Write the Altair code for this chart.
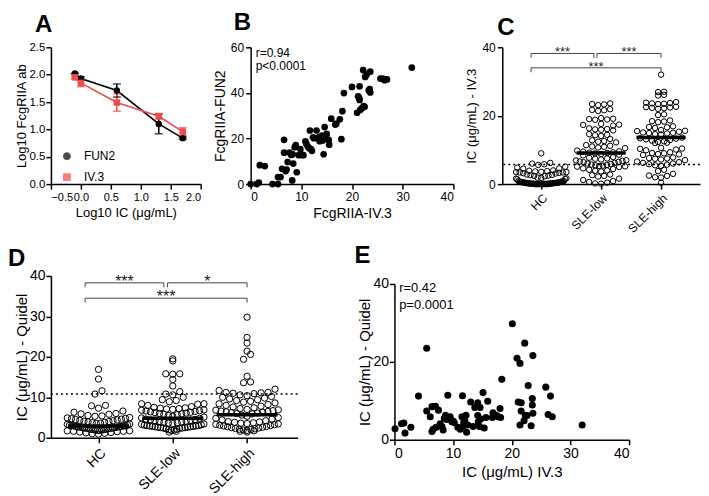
import altair as alt
import pandas as pd

FONT = "Liberation Sans"
RED = "#f04a4a"

# ---------------- Panel A ----------------
a_series = ["FUN2", "IV.3"]
a_x = [-0.1, 0.0, 0.6, 1.3, 1.7]
a_fun2 = [2.02, 1.93, 1.71, 1.10, 0.84]
a_fun2_err = [0.0, 0.03, 0.12, 0.18, 0.02]
a_iv3 = [1.95, 1.85, 1.49, 1.24, 0.96]
a_iv3_err = [0.03, 0.07, 0.16, 0.05, 0.07]

# ---------------- Panel B ----------------
b_iv3 = [0.0, 1.2, 1.6, 1.8, 2.8, 4.3, 5.4, 5.4, 5.9, 6.2, 6.6, 6.6, 6.9, 7.1, 7.3, 7.7, 8.0, 8.3, 8.2, 8.4,
         8.7, 8.9, 9.1, 9.5, 9.8, 10.2, 10.4, 10.8, 11.0, 11.3, 11.7, 11.5, 11.9, 12.1, 12.3, 12.5, 13.0, 13.4,
         13.6, 13.9, 14.1, 14.2, 14.4, 14.6, 14.7, 15.0, 15.4, 15.5, 15.9, 16.7, 16.9, 17.6, 17.9, 18.1, 18.4,
         20.0, 21.0, 21.2, 21.5, 21.4, 21.5, 21.6, 21.9, 22.2, 22.3, 22.5, 22.6, 22.9, 23.3, 23.5, 23.6, 23.6,
         25.6, 26.1, 26.4, 26.9, 31.8]
b_fun2 = [0.0, 0.0, 0.7, 8.3, 7.9, 0.0, 0.0, 3.1, 3.1, 6.7, 19.4, 13.8, 5.7, 6.4, 9.7, 13.8, 12.8, 13.1, 1.6, 9.0,
          16.2, 17.1, 5.2, 12.7, 15.3, 12.8, 12.7, 18.8, 17.6, 16.5, 23.5, 15.8, 15.3, 14.6, 20.5, 20.1, 23.5, 20.5,
          18.8, 19.4, 21.3, 19.1, 13.1, 25.0, 19.8, 22.0, 19.4, 17.3, 28.7, 26.1, 26.5, 28.4, 19.7, 32.0, 39.9,
          42.6, 31.3, 38.5, 42.9, 37.8, 36.9, 32.5, 33.2, 50.0, 34.2, 33.9, 47.0, 48.1, 41.1, 41.7, 49.3, 40.2,
          46.3, 46.3, 45.6, 45.9, 51.1]
b_stats = ["r=0.94", "p<0.0001"]

# ---------------- Panel C / D ----------------
groups = ["HC", "SLE-low", "SLE-high"]
c_hc = [9.0, 6.2, 6.0, 5.8, 5.6, 5.1, 4.8, 4.6, 4.5, 4.0, 3.9, 3.8, 3.7, 3.6, 3.5, 3.5, 3.4, 3.4, 3.3, 3.2, 3.1,
        2.8, 2.7, 2.6, 2.5, 2.4, 2.3, 1.9, 1.8, 1.7, 1.6, 1.5, 1.4, 0.9, 0.9, 0.8, 0.7, 0.7, 0.6, 0.6, 0.5, 0.5,
        0.5, 0.4, 0.4, 0.4, 0.3, 0.3, 0.3, 0.3, 0.2, 0.2, 0.2, 0.2, 0.1, 0.1, 0.1, 0.1, 0.1, 0.0, 0.0, 0.0, 0.0,
        0.0, 0.0, 0.0, 0.0, 0.0, 0.0, 0.0]
c_low = [23.6, 23.4, 23.3, 23.1, 21.9, 21.7, 21.6, 21.4, 19.3, 19.1, 19.0, 18.9, 18.8, 17.6, 17.4, 17.3, 17.1,
         16.3, 16.1, 16.0, 15.9, 15.7, 14.6, 14.4, 14.3, 14.1, 13.2, 12.8, 12.6, 12.4, 12.2, 11.4, 11.2, 11.0,
         10.9, 10.7, 10.5, 9.8, 9.6, 9.5, 9.3, 9.2, 9.1, 9.0, 8.8, 8.6, 8.4, 7.9, 7.7, 7.5, 7.4, 7.2, 7.0, 6.9,
         6.8, 6.6, 6.5, 6.4, 6.2, 6.0, 5.9, 5.7, 5.6, 5.5, 5.4, 5.3, 5.2, 5.1, 5.0, 4.6, 4.4, 4.2, 4.0, 3.9, 3.7,
         2.8, 2.6, 2.4, 2.2, 1.6, 1.2, 0.9, 0.6, 0.4, 0.2, 0.1]
c_high = [32.0, 27.0, 26.9, 26.1, 25.9, 24.0, 23.8, 23.7, 23.6, 23.5, 23.4, 22.6, 22.5, 22.4, 22.3, 22.2, 22.0,
          20.4, 20.2, 18.6, 18.4, 18.3, 18.1, 16.9, 16.7, 16.6, 16.4, 15.8, 15.6, 15.5, 15.3, 15.1, 15.0, 14.9,
          14.8, 14.6, 14.5, 13.6, 13.4, 13.3, 13.1, 12.9, 12.7, 12.5, 12.3, 12.1, 12.0, 10.6, 10.4, 10.3, 10.1,
          9.9, 9.3, 9.1, 9.0, 8.8, 8.7, 8.5, 7.8, 7.6, 7.5, 7.4, 7.2, 7.0, 6.6, 6.4, 6.2, 6.0, 5.8, 5.7, 5.5,
          5.3, 4.2, 3.8, 3.0, 2.5, 2.4, 2.0, 1.9, 0.4]
c_medians = [0.5, 9.1, 13.6]
c_cutoff = 5.7
c_sig = ["***", "***", "***"]
c_br_x1 = [-0.17, 0.93, -0.17]
c_br_x2 = [0.88, 2.0, 2.0]
c_br_y = [38.2, 38.2, 34.0]

d_hc = [16.9, 14.5, 11.6, 10.8, 8.0, 7.9, 7.3, 6.6, 6.3, 6.0, 5.9, 5.8, 5.5, 5.4, 5.3, 5.0, 4.9, 4.8, 4.7, 4.6,
        4.5, 4.4, 4.3, 4.2, 4.1, 4.0, 3.9, 3.8, 3.7, 3.6, 3.5, 3.4, 3.3, 3.2, 3.1, 3.0, 3.0, 2.9, 2.9, 2.8, 2.8,
        2.7, 2.7, 2.6, 2.6, 2.5, 2.5, 2.4, 2.4, 2.3, 2.3, 2.2, 2.2, 2.1, 2.1, 2.0, 2.0, 1.9, 1.9, 1.8, 1.8, 1.7,
        1.7, 1.6, 1.6, 1.5, 1.4, 1.3, 1.2, 1.1, 1.0, 0.9]
d_low = [19.5, 19.0, 15.8, 15.7, 15.8, 14.4, 12.8, 11.4, 10.8, 10.6, 10.0, 9.4, 9.2, 8.9, 8.4, 8.4, 8.3, 8.0, 7.7,
         7.5, 7.4, 7.3, 7.2, 7.1, 7.0, 6.9, 6.8, 6.7, 6.6, 6.5, 6.4, 6.3, 6.2, 6.1, 6.0, 5.9, 5.8, 5.7, 5.5, 5.3,
         5.1, 4.9, 4.8, 4.6, 4.5, 4.4, 4.3, 4.2, 4.1, 4.0, 3.9, 3.8, 3.7, 3.6, 3.5, 3.4, 3.3, 3.2, 3.1, 3.0, 3.0,
         2.9, 2.9, 2.8, 2.8, 2.7, 2.7, 2.6, 2.6, 2.5, 2.5, 2.4, 2.4, 2.3, 2.2, 2.1, 2.0, 1.9, 1.8, 1.6, 1.4]
d_high = [29.8, 24.8, 23.4, 21.4, 20.6, 19.4, 15.2, 13.8, 13.6, 12.0, 11.7, 11.2, 11.2, 11.1, 11.0, 10.9, 10.6,
          10.4, 10.2, 10.0, 9.8, 9.6, 9.4, 9.2, 9.0, 8.8, 8.6, 8.4, 8.2, 8.0, 7.8, 7.6, 7.4, 7.2, 7.0, 6.9, 6.8,
          6.7, 6.6, 6.5, 6.4, 6.3, 6.2, 6.1, 6.0, 5.9, 5.6, 5.3, 5.0, 4.8, 4.6, 4.4, 4.2, 4.0, 3.9, 3.8, 3.7, 3.6,
          3.5, 3.4, 3.3, 3.2, 3.1, 3.0, 2.9, 2.8, 2.7, 2.6, 2.5, 2.4, 2.3, 2.2, 2.1, 2.0, 1.9, 1.8, 1.7, 1.6, 1.4]
d_medians = [2.9, 4.8, 5.7]
d_cutoff = 10.8
d_sig = ["***", "*", "***"]
d_br_x1 = [-0.18, 0.93, -0.18]
d_br_x2 = [0.88, 2.0, 2.0]
d_br_y = [38.3, 38.3, 34.5]

# ---------------- Panel E ----------------
e_iv3 = [0.1, 1.2, 1.6, 1.8, 2.8, 4.1, 5.5, 5.5, 6.1, 6.4, 6.6, 6.4, 7.0, 7.1, 7.5, 7.8, 8.1, 8.3, 8.5, 8.7, 8.9,
         9.1, 9.5, 9.8, 10.0, 10.2, 10.8, 11.2, 11.5, 11.6, 11.7, 11.8, 12.0, 12.2, 12.3, 12.5, 13.0, 13.4, 13.7,
         14.2, 14.2, 14.3, 14.5, 14.6, 14.7, 15.1, 15.3, 15.6, 15.9, 16.7, 16.8, 17.4, 17.7, 18.0, 18.3, 18.1,
         20.1, 20.9, 21.1, 21.4, 21.4, 21.6, 21.6, 22.1, 22.2, 22.3, 22.6, 22.8, 23.3, 23.5, 23.5, 23.6, 23.6,
         25.8, 26.2, 26.6, 26.9, 32.0]
e_quidel = [2.8, 4.1, 4.3, 1.7, 3.2, 11.2, 23.5, 7.4, 5.9, 2.1, 2.7, 8.5, 8.6, 3.2, 7.6, 4.1, 3.4, 2.5, 5.5, 6.3,
            5.2, 11.4, 5.9, 4.6, 4.8, 4.4, 3.2, 2.7, 5.9, 11.3, 3.4, 4.5, 4.9, 6.3, 1.9, 3.8, 9.7, 3.4, 8.3, 9.5,
            6.2, 4.6, 3.4, 8.3, 5.3, 12.1, 3.0, 5.7, 9.9, 5.7, 6.9, 6.2, 5.9, 8.0, 15.5, 5.7, 29.8, 20.9, 9.7,
            19.6, 3.8, 9.5, 7.4, 4.9, 24.8, 6.3, 6.2, 13.9, 3.6, 8.9, 10.6, 21.6, 6.8, 13.5, 6.5, 11.2, 5.9, 3.8]
e_stats = ["r=0.42", "p=0.0001"]

UNIT = "IC (\u03bcg/mL)"


def letter(t, dx, offset):
    return alt.TitleParams(t, anchor="start", frame="group", fontSize=24, fontWeight="bold",
                           font=FONT, color="black", dx=dx, offset=offset)


# ---------- A ----------
a_rows = []
for s, ys, es in [("FUN2", a_fun2, a_fun2_err), ("IV.3", a_iv3, a_iv3_err)]:
    for x, y, e in zip(a_x, ys, es):
        a_rows.append(dict(x=x, y=y, lo=y - e, hi=y + e, s=s))
a_df = pd.DataFrame(a_rows)
a_base = alt.Chart(a_df)
a_xenc = alt.X("x:Q", scale=alt.Scale(domain=[-0.5, 2.0], nice=False),
               axis=alt.Axis(values=[-0.5, 0, 0.5, 1, 1.5, 2], format=".1f", title="Log10 IC (\u03bcg/mL)",
                             labelFontSize=11, titleFontSize=13, labelOverlap=False))
a_yscale = alt.Scale(domain=[0, 2.5], nice=False)
a_yax = alt.Axis(values=[0, 0.5, 1, 1.5, 2, 2.5], format=".1f", title="Log10 FcgRIIA ab",
                 labelFontSize=11.5, titleFontSize=13, labelOverlap=False, titlePadding=0, labelPadding=1)
leg = alt.Legend(title=None, orient="none", legendX=10, legendY=103, labelFontSize=12,
                 labelFont=FONT, symbolSize=40, rowPadding=7, labelOffset=11)
a_col = alt.Color("s:N", scale=alt.Scale(domain=a_series, range=["black", RED]), legend=leg)
a_shape = alt.Shape("s:N", scale=alt.Scale(domain=a_series, range=["circle", "square"]), legend=leg)
a_line = a_base.mark_line(strokeWidth=1.6).encode(a_xenc, alt.Y("y:Q", scale=a_yscale, axis=a_yax),
                                                   color=a_col)
a_err = a_base.mark_rule(strokeWidth=1.5).encode(a_xenc, alt.Y("lo:Q", scale=a_yscale, axis=a_yax),
                                                 y2="hi:Q", color=a_col)
a_caplo = a_base.mark_tick(orient="horizontal", size=8, thickness=1.5).encode(
    a_xenc, alt.Y("lo:Q", scale=a_yscale, axis=a_yax), color=a_col)
a_caphi = a_base.mark_tick(orient="horizontal", size=8, thickness=1.5).encode(
    a_xenc, alt.Y("hi:Q", scale=a_yscale, axis=a_yax), color=a_col)
a_pts = a_base.mark_point(filled=True, size=42, opacity=1).encode(
    a_xenc, alt.Y("y:Q", scale=a_yscale, axis=a_yax), color=a_col, shape=a_shape)
chart_a = alt.layer(a_line, a_err, a_caplo, a_caphi, a_pts).properties(
    width=150, height=137, title=letter("A", -16, 4))

# ---------- B ----------
b_df = pd.DataFrame({"x": b_iv3, "y": b_fun2})
b_pts = alt.Chart(b_df).mark_circle(size=45, color="black", opacity=1).encode(
    alt.X("x:Q", scale=alt.Scale(domain=[0, 40], nice=False),
          axis=alt.Axis(values=[0, 10, 20, 30, 40], title="FcgRIIA-IV.3", labelFontSize=12, titleFontSize=14,
                        labelOverlap=False)),
    alt.Y("y:Q", scale=alt.Scale(domain=[0, 60], nice=False),
          axis=alt.Axis(values=[0, 20, 40, 60], title="FcgRIIA-FUN2", labelFontSize=12, titleFontSize=14,
                        labelOverlap=False, titlePadding=3, labelPadding=2)))
b_txt = alt.Chart(pd.DataFrame({"t": b_stats, "x": [1.0, 1.0], "y": [57.5, 52.0]})).mark_text(
    align="left", baseline="middle", fontSize=12, font=FONT, color="black").encode(
    x="x:Q", y="y:Q", text="t:N")
chart_b = alt.layer(b_pts, b_txt).properties(width=203, height=137, title=letter("B", -17, 6))


# ---------- beeswarm helper ----------
def swarm_df(vals_by_group, row_h, x_ppu, diam, max_half):
    rows = []
    for gi, vals in enumerate(vals_by_group):
        bins = {}
        for v in sorted(vals):
            bins.setdefault(int(v // row_h), []).append(v)
        for vs in bins.values():
            n = len(vs)
            step = diam / x_ppu
            if n > 1:
                step = min(step, 2 * max_half / (n - 1))
            pos = sorted([(i - (n - 1) / 2) * step for i in range(n)], key=lambda p: (abs(p), p))
            for v, p in zip(vs, pos):
                rows.append(dict(x=gi + p, y=v))
    return pd.DataFrame(rows)


def dot_panel(vals, medians, cutoff, sig, bx1, bx2, by, drop, width, height, xdom, ytitle,
              fs_label, fs_title, fs_sig, size, diam, sig_dy, tpad, lpad):
    x_ppu = width / (xdom[1] - xdom[0])
    y_ppu = height / 40.0
    sdf = swarm_df(vals, diam / y_ppu, x_ppu, diam, 0.42)
    lab = " : ".join(f"datum.value == {i} ? '{g}'" for i, g in enumerate(groups[:-1])) + f" : '{groups[-1]}'"
    xs = alt.Scale(domain=xdom, nice=False, zero=False)
    ys = alt.Scale(domain=[0, 40], nice=False)
    xax = alt.Axis(values=[0, 1, 2], labelExpr=lab, labelAngle=-45, labelAlign="right", labelBaseline="top",
                   title=None, labelFontSize=fs_label, labelPadding=3, labelOverlap=False)
    yax = alt.Axis(values=[0, 10, 20, 30, 40], title=ytitle, labelFontSize=fs_label, titleFontSize=fs_title,
                   labelOverlap=False, titlePadding=tpad, labelPadding=lpad)
    pts = alt.Chart(sdf).mark_point(shape="circle", filled=False, color="black", strokeWidth=1,
                                    size=size, opacity=1).encode(
        alt.X("x:Q", scale=xs, axis=xax), alt.Y("y:Q", scale=ys, axis=yax))
    mdf = pd.DataFrame({"g": list(range(3)), "m": medians})
    med = alt.Chart(mdf).transform_calculate(a="datum.g - 0.41", b="datum.g + 0.41").mark_rule(
        strokeWidth=3.5, color="black").encode(x=alt.X("a:Q", scale=xs), x2="b:Q", y=alt.Y("m:Q", scale=ys))
    cut = alt.Chart(pd.DataFrame({"c": [cutoff]})).mark_rule(
        strokeDash=[2, 3], strokeWidth=1.5, color="black").encode(y=alt.Y("c:Q", scale=ys))
    bdf = pd.DataFrame({"x1": bx1, "x2": bx2, "y": by, "t": sig})
    hor = alt.Chart(bdf).mark_rule(color="#444", strokeWidth=1).encode(
        x=alt.X("x1:Q", scale=xs), x2="x2:Q", y=alt.Y("y:Q", scale=ys))
    vl = alt.Chart(bdf).transform_calculate(y2=f"datum.y - {drop}").mark_rule(color="#444", strokeWidth=1).encode(
        x=alt.X("x1:Q", scale=xs), y=alt.Y("y:Q", scale=ys), y2="y2:Q")
    vr = alt.Chart(bdf).transform_calculate(y2=f"datum.y - {drop}").mark_rule(color="#444", strokeWidth=1).encode(
        x=alt.X("x2:Q", scale=xs), y=alt.Y("y:Q", scale=ys), y2="y2:Q")
    txt = alt.Chart(bdf).transform_calculate(xm="(datum.x1 + datum.x2) / 2").mark_text(
        fontSize=fs_sig, font=FONT, color="#222", baseline="bottom", dy=sig_dy).encode(
        x=alt.X("xm:Q", scale=xs), y=alt.Y("y:Q", scale=ys), text="t:N")
    return alt.layer(cut, pts, med, hor, vl, vr, txt)


chart_c = dot_panel([c_hc, c_low, c_high], c_medians, c_cutoff, c_sig, c_br_x1, c_br_x2, c_br_y, 1.3,
                    198, 137, [-0.65, 2.65], UNIT + " - IV.3", 12, 13, 13, 30, 6, 6, 3, 2).properties(
    width=198, height=137, title=letter("C", -5, 1))

chart_d = dot_panel([d_hc, d_low, d_high], d_medians, d_cutoff, d_sig, d_br_x1, d_br_x2, d_br_y, 1.1,
                    247, 162, [-0.64, 2.68], UNIT + " - Quidel", 14, 15, 16, 40, 7, 7, 0, 1).properties(
    width=247, height=162, title=letter("D", -43, -2))

# ---------- E ----------
e_df = pd.DataFrame({"x": e_iv3, "y": e_quidel})
e_pts = alt.Chart(e_df).mark_circle(size=50, color="black", opacity=1).encode(
    alt.X("x:Q", scale=alt.Scale(domain=[0, 40], nice=False),
          axis=alt.Axis(values=[0, 10, 20, 30, 40], title=UNIT + " IV.3", labelFontSize=14, titleFontSize=15,
                        labelOverlap=False, titlePadding=4)),
    alt.Y("y:Q", scale=alt.Scale(domain=[0, 40], nice=False),
          axis=alt.Axis(values=[0, 10, 20, 30, 40], title=UNIT + " - Quidel", labelFontSize=14,
                        titleFontSize=15, labelOverlap=False, titlePadding=0, labelPadding=1)))
e_txt = alt.Chart(pd.DataFrame({"t": e_stats, "x": [0.8, 0.8], "y": [39.0, 34.7]})).mark_text(
    align="left", baseline="middle", fontSize=13, font=FONT, color="black").encode(
    x="x:Q", y="y:Q", text="t:N")
chart_e = alt.layer(e_pts, e_txt).properties(width=235, height=156)
e_head = alt.Chart(pd.DataFrame({"v": [0]})).mark_point(opacity=0).encode(
    x=alt.X("v:Q", axis=None), y=alt.Y("v:Q", axis=None)).properties(
    width=235, height=1, title=letter("E", -40, 6))
e_column = alt.vconcat(e_head, chart_e, spacing=-3)

top = alt.hconcat(chart_a, chart_b, chart_c, spacing=11)
bottom = alt.hconcat(chart_d, e_column, spacing=56)
chart = alt.vconcat(top, bottom, spacing=8).properties(
    padding={"left": 0, "top": 3, "right": 0, "bottom": 0}
).configure_view(stroke=None).configure_axis(
    domainColor="black", domainWidth=1.5, tickColor="black", tickWidth=1.5, tickSize=5, labelColor="black",
    titleColor="black", grid=False, labelFont=FONT, titleFont=FONT, titleFontWeight="normal"
).configure_legend(labelColor="black")

chart.save("out.html", embed_options={"renderer": "svg", "actions": False})
